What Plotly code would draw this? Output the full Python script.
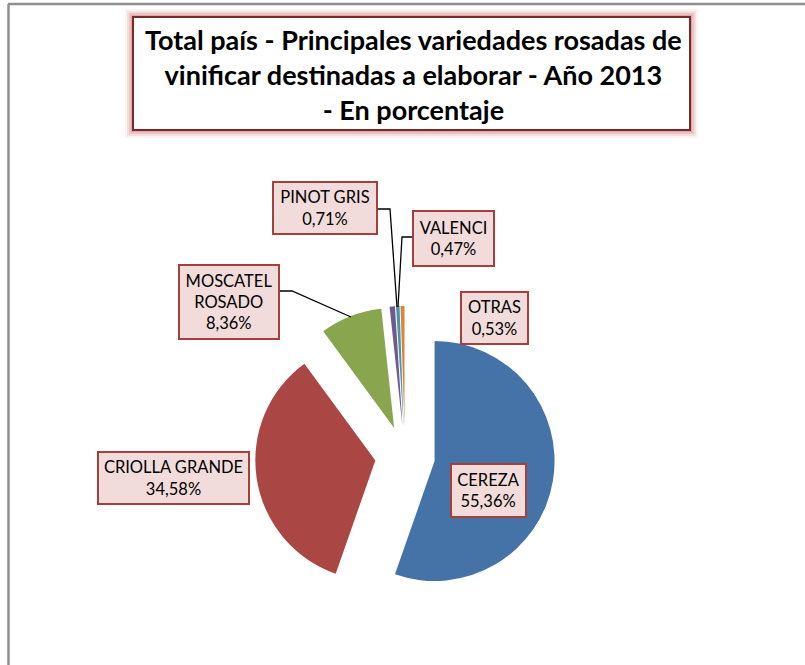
import plotly.graph_objects as go

# ---- data ----
varieties = ["CEREZA", "CRIOLLA GRANDE", "MOSCATEL ROSADO", "PINOT GRIS", "VALENCI", "OTRAS"]
percent = [55.36, 34.58, 8.36, 0.71, 0.47, 0.53]
colors = ["#4572A7", "#AA4643", "#89A54E", "#71588F", "#4198AF", "#DB843D"]
title_lines = ["Total país - Principales variedades rosadas de",
               "vinificar destinadas a elaborar - Año 2013",
               "- En porcentaje"]

W, H = 805, 665
def px(x): return x / W
def py(y): return 1 - y / H

FONT = "Lato"

fig = go.Figure()
fig.add_trace(go.Pie(
    labels=varieties, values=percent, sort=False, direction="clockwise", rotation=0,
    pull=[0.25] * len(percent),
    marker=dict(colors=colors, line=dict(width=0)),
    textinfo="none", hoverinfo="label+percent", showlegend=False,
    domain=dict(x=[px(255), px(555)], y=[py(606), py(306)]),
))

shapes = []
# outer frame (left and top edges)
shapes.append(dict(type="line", xref="paper", yref="paper", x0=px(8.5), x1=px(8.5), y0=py(4), y1=py(665),
                   line=dict(color="#8f8f8f", width=2.5)))
shapes.append(dict(type="line", xref="paper", yref="paper", x0=px(8), x1=px(805), y0=py(4), y1=py(4),
                   line=dict(color="#8f8f8f", width=2.5)))
# title box glow
for off, op in [(8, 0.07), (6, 0.12), (4, 0.18), (2, 0.25)]:
    shapes.append(dict(type="rect", xref="paper", yref="paper",
                       x0=px(133 - off), x1=px(690 + off), y0=py(130 + off), y1=py(17 - off),
                       fillcolor=f"rgba(192,80,77,{op})", line=dict(width=0), layer="below"))
shapes.append(dict(type="rect", xref="paper", yref="paper", x0=px(133), x1=px(690), y0=py(130), y1=py(17),
                   fillcolor="white", line=dict(color="#7B2826", width=2), layer="below"))
# leader lines
leaders = [
    [(378, 209), (390, 209), (397, 307)],   # pinot gris
    [(412, 237), (402, 237), (398, 307)],   # valenci
    [(280, 291), (292, 291), (351, 317)],   # moscatel
]
for pts in leaders:
    path = "M " + " L ".join(f"{px(x)},{py(y)}" for x, y in pts)
    shapes.append(dict(type="path", xref="paper", yref="paper", path=path,
                       line=dict(color="black", width=1.3)))

annotations = []
annotations.append(dict(xref="paper", yref="paper", x=px(413), y=py(75), xanchor="center", yanchor="middle",
                        text="<br>".join(f"<b>{t}</b>" for t in title_lines), showarrow=False,
                        font=dict(family=FONT, size=27, color="black")))

# label boxes (left, top, right, bottom) in pixels
boxes = {
    "CEREZA": (450, 463, 527, 518),
    "CRIOLLA GRANDE": (97, 451, 250, 505),
    "MOSCATEL ROSADO": (178, 264, 280, 340),
    "PINOT GRIS": (272, 181, 378, 235),
    "VALENCI": (412, 210, 495, 267),
    "OTRAS": (460, 291, 529, 345),
}
bw = 2
for name, val in zip(varieties, percent):
    l, t, r, b = boxes[name]
    disp = name.replace("MOSCATEL ", "MOSCATEL<br>")
    txt = f"{disp}<br>{val:.2f}%".replace(".", ",")
    annotations.append(dict(xref="paper", yref="paper", x=px((l + r) / 2), y=py((t + b) / 2),
                            xanchor="center", yanchor="middle", text=txt, showarrow=False, align="center",
                            width=r - l - 2 * bw, height=b - t - 2 * bw,
                            bgcolor="#F2DCDB", bordercolor="#A5403D", borderwidth=bw, borderpad=0,
                            font=dict(family=FONT, size=16.5, color="black")))

fig.update_layout(width=W, height=H, margin=dict(l=0, r=0, t=0, b=0),
                  paper_bgcolor="white", plot_bgcolor="white",
                  shapes=shapes, annotations=annotations)
fig.write_html("out.html", config={"displayModeBar": False},
               post_script="document.body.style.margin='0';document.body.style.overflow='hidden';")
